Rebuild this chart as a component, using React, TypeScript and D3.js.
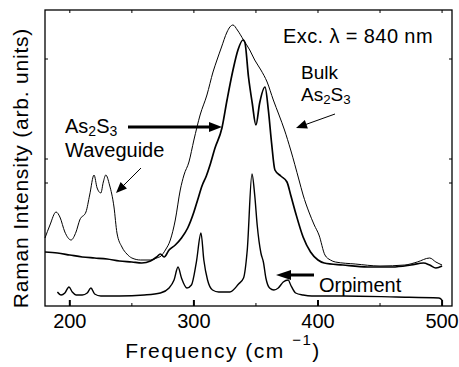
import React from 'react';
import * as d3 from 'd3';

// Raman spectra (frequency in cm^-1, intensity in arbitrary units)
const waveguideFreq = [180, 184, 188.9, 192, 196, 201, 205, 208, 213, 216, 219.5, 222, 225, 227, 229, 232, 235.6, 238, 242, 246, 250, 257, 265, 270, 273.5, 277, 281, 285, 289, 292, 296, 300, 305, 310.5, 315.4, 318.6, 322, 326.7, 329, 331.5, 335, 340, 345, 349, 354, 359, 364, 368.6, 373, 378, 384.7, 388, 392.7, 397, 400.8, 405.6, 410, 414, 430, 450, 470, 480, 490, 495, 500];
const waveguideInt = [68, 81, 94, 89, 74, 66, 74, 86, 94, 111, 131, 118, 113, 124, 131, 121, 99, 73, 59, 52, 48, 46, 46, 48, 50, 56, 66, 86, 116, 131, 144, 166, 191, 211, 234, 246, 258, 274, 279, 281, 276, 266, 256, 246, 236, 224, 206, 191, 176, 156, 126, 111, 94, 81, 71, 51, 46, 44, 42, 40, 41, 44, 48, 44, 41];

const bulkFreq = [180, 190, 200, 210, 220, 230, 240, 250, 258, 265, 270, 273, 276, 280, 285, 290, 295, 300, 303, 306.5, 310, 313, 317, 322.6, 326.7, 331.5, 335.5, 339.5, 341, 344, 347, 350, 353, 357.3, 360, 362.6, 365.3, 370, 375, 378, 382, 388, 394, 400, 405, 420, 440, 460, 475, 485, 490, 495, 500];
const bulkInt = [54, 53, 51, 49, 48, 47, 45, 44, 43, 45, 49, 52, 49, 56, 61, 68, 78, 94, 106, 120, 130, 141, 158, 178, 206, 236, 256, 266, 264, 229, 203, 181, 203, 219, 196, 163, 136, 130, 124, 111, 93, 69, 54, 46, 43, 41, 39, 39, 41, 43, 41, 38, 40];

const orpimentFreq = [190, 193, 196, 199.3, 202, 205, 210, 214, 217, 220, 225, 240, 260, 273, 280, 284, 287.2, 290, 294.4, 298, 302, 305.7, 308, 311, 315, 320, 329, 336, 340, 343, 346.8, 349, 351, 354, 356, 358, 361, 364.5, 368, 372, 376, 378, 382, 388, 395, 420, 463, 497.5, 500];
const orpimentInt = [14, 11, 13, 19, 14, 11, 11, 13, 18, 12, 10, 10, 11, 13, 18, 26, 39, 28, 18, 21, 44, 73, 46, 26, 16, 14, 14, 22, 28, 56, 132, 111, 81, 53, 44, 28, 18, 16, 18, 24, 26, 21, 13, 11, 10, 10, 9, 8, 6];

const xMajorTicks = [200, 300, 400, 500];
const xMinorTicks = [250, 350, 450];
const yTicks = [123, 147, 247];

const W = 459;
const H = 367;
const left = 45;
const right = 452;
const top = 10;
const bottom = 306;

const FONT = "'Liberation Sans', Arial, sans-serif";

const x = d3.scaleLinear().domain([180, 508]).range([left, right]);
const y = d3.scaleLinear().domain([0, 296]).range([bottom, top]);

function pathFor(fr: number[], it: number[]) {
  const pts: [number, number][] = fr.map((f, i) => [f, it[i]]);
  return d3
    .line<[number, number]>()
    .x((d) => x(d[0]))
    .y((d) => y(d[1]))
    .curve(d3.curveMonotoneX)(pts) as string;
}

// arrow with a filled triangular head ending at (x2, y2)
function Arrow({ x1, y1, x2, y2, w, headL, headW }: { x1: number; y1: number; x2: number; y2: number; w: number; headL: number; headW: number }) {
  const dx = x2 - x1;
  const dy = y2 - y1;
  const len = Math.hypot(dx, dy);
  const ux = dx / len;
  const uy = dy / len;
  const bx = x2 - ux * headL;
  const by = y2 - uy * headL;
  const px = -uy * headW / 2;
  const py = ux * headW / 2;
  return (
    <g>
      <line x1={x1} y1={y1} x2={bx + ux} y2={by + uy} stroke="#000" strokeWidth={w} />
      <polygon points={`${x2},${y2} ${bx + px},${by + py} ${bx - px},${by - py}`} fill="#000" />
    </g>
  );
}

function AsS({ xPos, yPos, size }: { xPos: number; yPos: number; size: number }) {
  return (
    <text x={xPos} y={yPos} fontSize={size} fontFamily={FONT}>
      As<tspan fontSize={size * 0.7} dy={3}>2</tspan>
      <tspan dy={-3}>S</tspan>
      <tspan fontSize={size * 0.7} dy={3}>3</tspan>
    </text>
  );
}

export default function App() {
  return (
    <svg width={W} height={H} style={{ position: 'absolute', left: 0, top: 0, background: '#fff' }}>
      <rect x={0} y={0} width={W} height={H} fill="#fff" />
      {/* spectra */}
      <path d={pathFor(orpimentFreq, orpimentInt)} fill="none" stroke="#000" strokeWidth={1.4} />
      <path d={pathFor(bulkFreq, bulkInt)} fill="none" stroke="#000" strokeWidth={1.7} />
      <path d={pathFor(waveguideFreq, waveguideInt)} fill="none" stroke="#000" strokeWidth={1} />

      {/* frame */}
      <rect x={left} y={top} width={right - left} height={bottom - top} fill="none" stroke="#000" strokeWidth={1.3} />

      {/* x ticks */}
      {xMajorTicks.map((t) => (
        <g key={'M' + t}>
          <line x1={x(t)} x2={x(t)} y1={bottom} y2={bottom - 6} stroke="#000" strokeWidth={2} />
          <line x1={x(t)} x2={x(t)} y1={top} y2={top + 3} stroke="#000" strokeWidth={1} />
          <text x={x(t)} y={328} textAnchor="middle" fontSize={20} fontFamily={FONT}>
            {t}
          </text>
        </g>
      ))}
      {xMinorTicks.map((t) => (
        <g key={'m' + t}>
          <line x1={x(t)} x2={x(t)} y1={bottom} y2={bottom - 3} stroke="#000" strokeWidth={1} />
          <line x1={x(t)} x2={x(t)} y1={top} y2={top + 3} stroke="#000" strokeWidth={1} />
        </g>
      ))}
      {/* y ticks */}
      {yTicks.map((t) => (
        <g key={'y' + t}>
          <line x1={left} x2={left + 3} y1={y(t)} y2={y(t)} stroke="#000" strokeWidth={1} />
          <line x1={right} x2={right - 3} y1={y(t)} y2={y(t)} stroke="#000" strokeWidth={1} />
        </g>
      ))}

      {/* axis titles */}
      <text x={223} y={358} textAnchor="middle" fontSize={21} letterSpacing={1.5} fontFamily={FONT}>
        Frequency (cm <tspan fontSize={15} dy={-13}>−1</tspan>
        <tspan dy={13}>)</tspan>
      </text>
      <text
        transform={`translate(28, 168) rotate(-90)`}
        textAnchor="middle"
        fontSize={21}
        letterSpacing={0.8}
        fontFamily={FONT}
      >
        Raman Intensity (arb. units)
      </text>

      {/* annotations */}
      <text x={283} y={43} fontSize={20} letterSpacing={0.4} fontFamily={FONT}>
        Exc. λ = 840 nm
      </text>
      <text x={301} y={79} fontSize={19} fontFamily={FONT}>
        Bulk
      </text>
      <AsS xPos={301} yPos={101} size={19} />
      <Arrow x1={335} y1={114} x2={296} y2={128} w={1} headL={11} headW={9} />

      <AsS xPos={65} yPos={133} size={20} />
      <text x={65} y={157} fontSize={20} fontFamily={FONT}>
        Waveguide
      </text>
      <Arrow x1={128} y1={127} x2={222} y2={127} w={3} headL={13} headW={10} />
      <Arrow x1={141} y1={168} x2={116} y2={193} w={1} headL={11} headW={9} />

      <text x={319} y={292} fontSize={20} fontFamily={FONT}>
        Orpiment
      </text>
      <Arrow x1={314} y1={275} x2={276} y2={275} w={3} headL={15} headW={10} />
    </svg>
  );
}
